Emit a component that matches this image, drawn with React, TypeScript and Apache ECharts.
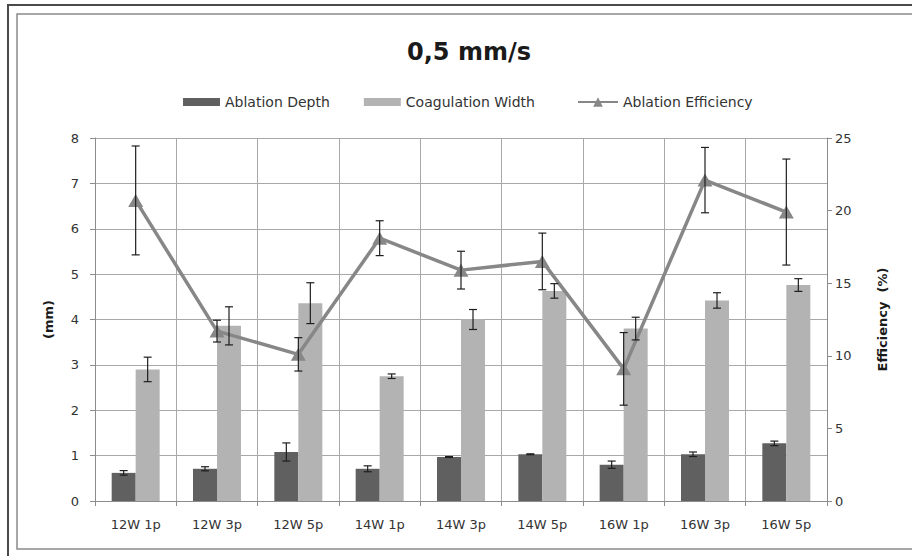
import React, { useEffect, useRef } from "react";
import * as echarts from "echarts";

// Laser settings at 0,5 mm/s
const categories = ["12W 1p", "12W 3p", "12W 5p", "14W 1p", "14W 3p", "14W 5p", "16W 1p", "16W 3p", "16W 5p"];

// millimetres
const ablationDepth = [0.62, 0.71, 1.08, 0.71, 0.97, 1.03, 0.8, 1.03, 1.27];
const ablationDepthErr = [0.05, 0.045, 0.2, 0.065, 0.01, 0.01, 0.08, 0.05, 0.05];
const coagulationWidth = [2.9, 3.86, 4.36, 2.75, 4.0, 4.63, 3.8, 4.42, 4.76];
const coagulationWidthErr = [0.27, 0.42, 0.45, 0.05, 0.22, 0.16, 0.25, 0.17, 0.14];

// percent
const ablationEfficiency = [20.7, 11.7, 10.1, 18.1, 15.9, 16.5, 9.1, 22.1, 19.9];
const ablationEfficiencyErr = [3.75, 0.75, 1.15, 1.2, 1.3, 1.95, 2.5, 2.25, 3.65];

const mmTicks = { min: 0, max: 8, interval: 1 };
const pctTicks = { min: 0, max: 25, interval: 5 };

const BAR_WIDTH = 24;
const TEXT = "#333333";
const FONT = "DejaVu Sans";

function errorBars(name: string, values: number[], errs: number[], yAxisIndex: number, offset: number) {
  const stroke = { stroke: "#1e1e1e", lineWidth: 1.2 };
  return {
    type: "custom",
    name,
    yAxisIndex,
    z: 6,
    silent: true,
    data: values.map((v, i) => [i, v - errs[i], v + errs[i]]),
    encode: { x: 0, y: [1, 2] },
    renderItem: (_params: any, api: any) => {
      const i = api.value(0);
      const lo = api.coord([i, api.value(1)]);
      const hi = api.coord([i, api.value(2)]);
      const x = lo[0] + offset;
      const half = 4;
      return {
        type: "group",
        children: [
          { type: "line", shape: { x1: x, y1: hi[1], x2: x, y2: lo[1] }, style: stroke },
          { type: "line", shape: { x1: x - half, y1: hi[1], x2: x + half, y2: hi[1] }, style: stroke },
          { type: "line", shape: { x1: x - half, y1: lo[1], x2: x + half, y2: lo[1] }, style: stroke },
        ],
      };
    },
  };
}

export default function App() {
  const ref = useRef<HTMLDivElement>(null);

  useEffect(() => {
    if (!ref.current) return;
    const chart = echarts.init(ref.current, null, { renderer: "svg" });
    const legendText = { fontFamily: FONT, fontSize: 14, color: TEXT };
    chart.setOption({
      animation: false,
      backgroundColor: "#ffffff",
      textStyle: { fontFamily: FONT },
      title: {
        text: "0,5 mm/s",
        left: 464,
        top: 35,
        textAlign: "center",
        textStyle: { fontFamily: FONT, fontWeight: "bold", fontSize: 24, color: "#1a1a1a" },
      },
      legend: [
        {
          left: 178,
          top: 90,
          itemGap: 34,
          itemWidth: 37,
          itemHeight: 8,
          textStyle: legendText,
          data: [
            { name: "Ablation Depth", icon: "rect" },
            { name: "Coagulation Width", icon: "rect" },
          ],
        },
        {
          left: 572,
          top: 90,
          itemWidth: 40,
          itemHeight: 12,
          textStyle: legendText,
          data: [{ name: "Ablation Efficiency" }],
        },
      ],
      graphic: [
        {
          type: "polyline",
          shape: { points: [[8, 556], [8, 5], [912, 5]] },
          style: { stroke: "#4a4a4a", lineWidth: 2, fill: "none" },
          silent: true,
        },
        {
          type: "rect",
          shape: { x: 17, y: 14, width: 1000, height: 535 },
          style: { stroke: "#8a8a8a", lineWidth: 1.5, fill: "none" },
          silent: true,
        },
      ],
      grid: { left: 95, right: 85, top: 138, bottom: 55 },
      xAxis: {
        type: "category",
        data: categories,
        boundaryGap: true,
        axisLine: { show: true, lineStyle: { color: "#8c8c8c" } },
        axisTick: { show: true, length: 5, lineStyle: { color: "#8c8c8c" } },
        splitLine: { show: true, lineStyle: { color: "#a8a8a8", width: 1 } },
        axisLabel: { margin: 17, fontFamily: FONT, fontSize: 13, color: TEXT },
      },
      yAxis: [
        {
          type: "value",
          ...mmTicks,
          name: "(mm)",
          nameLocation: "middle",
          nameRotate: 90,
          nameGap: 40,
          nameTextStyle: { fontFamily: FONT, fontWeight: "bold", fontSize: 13, color: "#1a1a1a" },
          axisLine: { show: true, lineStyle: { color: "#8c8c8c" } },
          axisTick: { show: true, length: 5, lineStyle: { color: "#8c8c8c" } },
          splitLine: { show: true, lineStyle: { color: "#a8a8a8", width: 1 } },
          axisLabel: { margin: 16, fontFamily: FONT, fontSize: 13, color: TEXT },
        },
        {
          type: "value",
          ...pctTicks,
          position: "right",
          name: "Efficiency  (%)",
          nameLocation: "middle",
          nameRotate: 90,
          nameGap: 49,
          nameTextStyle: { fontFamily: FONT, fontWeight: "bold", fontSize: 13, color: "#1a1a1a" },
          axisLine: { show: true, lineStyle: { color: "#8c8c8c" } },
          axisTick: { show: true, length: 5, lineStyle: { color: "#8c8c8c" } },
          splitLine: { show: false },
          axisLabel: { margin: 8, fontFamily: FONT, fontSize: 13, color: TEXT },
        },
      ],
      series: [
        {
          name: "Ablation Depth",
          type: "bar",
          yAxisIndex: 0,
          barWidth: BAR_WIDTH,
          barGap: "0%",
          itemStyle: { color: "#606060" },
          data: ablationDepth,
          z: 2,
        },
        {
          name: "Coagulation Width",
          type: "bar",
          yAxisIndex: 0,
          barWidth: BAR_WIDTH,
          barGap: "0%",
          itemStyle: { color: "#b3b3b3" },
          data: coagulationWidth,
          z: 2,
        },
        errorBars("Ablation Depth error", ablationDepth, ablationDepthErr, 0, -BAR_WIDTH / 2),
        errorBars("Coagulation Width error", coagulationWidth, coagulationWidthErr, 0, BAR_WIDTH / 2),
        {
          name: "Ablation Efficiency",
          type: "line",
          yAxisIndex: 1,
          data: ablationEfficiency,
          symbol: "triangle",
          symbolSize: [15, 13],
          showAllSymbol: true,
          lineStyle: { color: "#878787", width: 3.5 },
          itemStyle: { color: "#878787" },
          z: 4,
        },
        errorBars("Ablation Efficiency error", ablationEfficiency, ablationEfficiencyErr, 1, 0),
      ],
    });
    return () => chart.dispose();
  }, []);

  return (
    <div
      ref={ref}
      style={{ position: "fixed", left: 0, top: 0, width: 912, height: 556 }}
    />
  );
}
